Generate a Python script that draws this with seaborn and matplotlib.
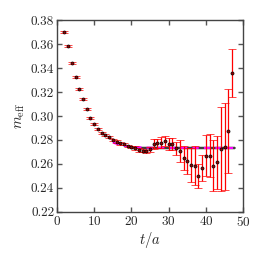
import matplotlib
matplotlib.use("Agg")
import matplotlib.pyplot as plt
import numpy as np
import pandas as pd
import seaborn as sns

# Effective mass data
t_vals = list(range(2, 48))
m_eff = [0.3700, 0.3583, 0.3444, 0.3322, 0.3222, 0.3139, 0.3056, 0.2986,
         0.2930, 0.2889, 0.2861, 0.2839, 0.2822, 0.2800, 0.2786, 0.2772,
         0.2764, 0.2752, 0.2742, 0.2731, 0.2717, 0.2711, 0.2705, 0.2722,
         0.2764, 0.2772, 0.2778, 0.2792, 0.2767, 0.2767, 0.2731, 0.2710,
         0.2647, 0.2625, 0.2592, 0.2586, 0.2503, 0.2564, 0.2669, 0.2667,
         0.2586, 0.2614, 0.2725, 0.2744, 0.2878, 0.3361]
m_err = [0.0008, 0.0008, 0.0008, 0.0008, 0.0008, 0.0008, 0.0008, 0.0008,
         0.0008, 0.0008, 0.0008, 0.0008, 0.0008, 0.0010, 0.0010, 0.0010,
         0.0010, 0.0010, 0.0010, 0.0015, 0.0015, 0.0015, 0.0015, 0.0020,
         0.0040, 0.0040, 0.0045, 0.0045, 0.0050, 0.0050, 0.0055, 0.0090,
         0.0100, 0.0110, 0.0140, 0.0160, 0.0100, 0.0110, 0.0170, 0.0180,
         0.0210, 0.0220, 0.0350, 0.0360, 0.0350, 0.0200]

# fit curve (magenta) and plateau band
fit_t = [15, 16, 17, 18, 19, 20, 21, 22, 24, 27, 47.5]
fit_m = [0.2778, 0.2768, 0.2760, 0.2753, 0.2748, 0.2744, 0.2741, 0.2739,
         0.2736, 0.2734, 0.2733]
plateau_t = [20, 47.7]
plateau_m = 0.2733
plateau_err = 0.0016

sns.set_style("ticks")
plt.rcParams["font.family"] = ["cmr10", "DejaVu Serif"]
plt.rcParams["mathtext.fontset"] = "cm"
plt.rcParams["axes.formatter.use_mathtext"] = True

fig, ax = plt.subplots(figsize=(2.66, 2.60), dpi=100)
fig.subplots_adjust(left=0.214, right=0.914, top=0.923, bottom=0.185)

ax.fill_between(plateau_t, plateau_m - plateau_err, plateau_m + plateau_err,
                color="#c4c4c4", alpha=0.8, lw=0, zorder=1)
ax.plot(plateau_t, [plateau_m, plateau_m], color="#222222", lw=1.2, zorder=2)

fit_df = pd.DataFrame({"t": fit_t, "m": fit_m})
sns.lineplot(data=fit_df, x="t", y="m", ax=ax, color="#ff00ff", lw=1.5,
             dashes=False, zorder=3).lines[-1].set_dashes([3, 2.5])

ax.errorbar(t_vals, m_eff, yerr=m_err, fmt="o", ms=2.2, mfc="#990000",
            mec="black", mew=0.5, ecolor="red", elinewidth=0.9,
            capsize=2.8, capthick=0.9, zorder=4)

ax.set_xlim(0, 50)
ax.set_ylim(0.22, 0.38)
ax.set_xticks(np.arange(0, 51, 10))
ax.set_yticks(np.arange(0.22, 0.381, 0.02))
ax.set_yticklabels([f"{v:.2f}" for v in np.arange(0.22, 0.381, 0.02)])
ax.tick_params(direction="in", top=True, right=True, length=3.5, width=1,
               labelsize=9.5, color="#555555", pad=2)
for sp in ax.spines.values():
    sp.set_color("#444444")
    sp.set_linewidth(1.0)

ax.set_xlabel(r"$t/a$", fontsize=10.5, labelpad=1)
ax.set_ylabel(r"$m_{\rm eff}$", fontsize=10.5, labelpad=3)

fig.savefig("out.png", dpi=100)
